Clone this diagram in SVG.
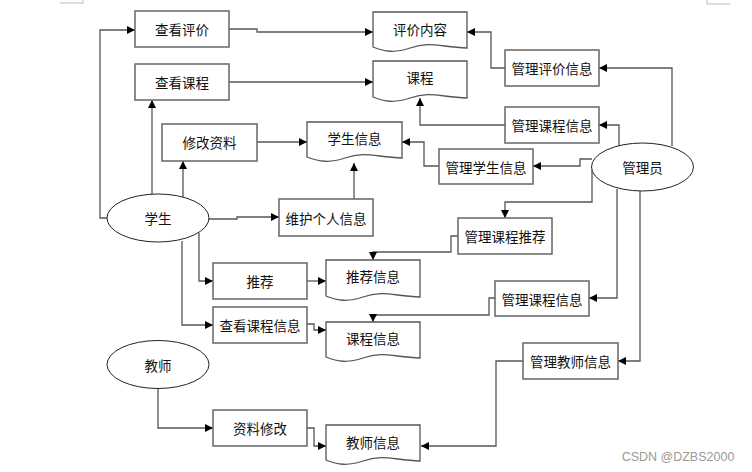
<svg xmlns="http://www.w3.org/2000/svg" width="752" height="472" viewBox="0 0 752 472">
<defs>
<marker id="ah" viewBox="0 0 10 10" refX="10" refY="5" markerWidth="9" markerHeight="8" markerUnits="userSpaceOnUse" orient="auto">
<path d="M0,0 L10,5 L0,10 Z" fill="#000"/>
</marker>
</defs>
<style>
.box{fill:#fff;stroke:#666;stroke-width:1.5}
.doc{fill:#fff;stroke:#555;stroke-width:1.3}
.ell{fill:#fff;stroke:#222;stroke-width:1}
.t{font-family:"Noto Sans CJK SC","Noto Sans",sans-serif;font-size:13.5px;fill:#111;text-anchor:middle;dominant-baseline:central}
.c{fill:none;stroke:#555;stroke-width:1.3;marker-end:url(#ah)}
.mark{fill:none;stroke:#bbb;stroke-width:1}
</style>
<rect width="752" height="472" fill="#fff"/>
<path class="mark" d="M60,3 H83 V0"/>
<path class="mark" d="M730,4 H707 V0"/>

<g id="connectors">
<path class="c" d="M107,218 H100 V30 H135"/>
<path class="c" d="M152,194 V100"/>
<path class="c" d="M183,197 V161"/>
<path class="c" d="M257,142 H307"/>
<path class="c" d="M209,219 H237 V217 H279"/>
<path class="c" d="M354,199 V163"/>
<path class="c" d="M229,29 H257 V32 H373"/>
<path class="c" d="M229,82 H373"/>
<path class="c" d="M672,146 V68 H599"/>
<path class="c" d="M505,68 H491 V32 H467"/>
<path class="c" d="M619,148 V125 H599"/>
<path class="c" d="M505,125 H420 V98"/>
<path class="c" d="M592,159 H580 V166 H533"/>
<path class="c" d="M439,166 H424 V142 H402"/>
<path class="c" d="M592,170 V202 H505 V218"/>
<path class="c" d="M458,236 H451 V252 H373 V260"/>
<path class="c" d="M199,233 V281 H213"/>
<path class="c" d="M307,281 H326"/>
<path class="c" d="M182,241 V325 H213"/>
<path class="c" d="M307,324 H314 V330 H326"/>
<path class="c" d="M617,189 V298 H589"/>
<path class="c" d="M495,298 H489 V315 H373 V322"/>
<path class="c" d="M640,191 V361 H618"/>
<path class="c" d="M523,361 H496 V446 H421"/>
<path class="c" d="M158,388 V428 H213"/>
<path class="c" d="M307,428 H314 V446 H326"/>
</g>

<g id="n-ckpj"><rect class="box" x="135" y="11" width="94" height="36"/><text class="t" x="182" y="29">查看评价</text></g>
<g id="n-ckkc"><rect class="box" x="135" y="64" width="94" height="36"/><text class="t" x="182" y="82">查看课程</text></g>
<g id="n-xgzl"><rect class="box" x="162" y="124" width="95" height="37"/><text class="t" x="209.5" y="142">修改资料</text></g>
<g id="n-whgrxx"><rect class="box" x="279" y="199" width="94" height="37"/><text class="t" x="326" y="217.5">维护个人信息</text></g>
<g id="n-tj"><rect class="box" x="213" y="263" width="94" height="36"/><text class="t" x="260" y="281">推荐</text></g>
<g id="n-ckkcxx"><rect class="box" x="213" y="307" width="94" height="36"/><text class="t" x="260" y="325">查看课程信息</text></g>
<g id="n-zlxg"><rect class="box" x="213" y="410" width="94" height="36"/><text class="t" x="260" y="428">资料修改</text></g>
<g id="n-glpjxx"><rect class="box" x="505" y="50" width="94" height="36"/><text class="t" x="552" y="68">管理评价信息</text></g>
<g id="n-glkcxx1"><rect class="box" x="505" y="107" width="94" height="36"/><text class="t" x="552" y="125">管理课程信息</text></g>
<g id="n-glxsxx"><rect class="box" x="439" y="149" width="94" height="35"/><text class="t" x="486" y="166.5">管理学生信息</text></g>
<g id="n-glkctj"><rect class="box" x="458" y="218" width="94" height="36"/><text class="t" x="505" y="236">管理课程推荐</text></g>
<g id="n-glkcxx2"><rect class="box" x="495" y="281" width="94" height="35"/><text class="t" x="542" y="298.5">管理课程信息</text></g>
<g id="n-gljsxx"><rect class="box" x="523" y="343" width="95" height="36"/><text class="t" x="570.5" y="361">管理教师信息</text></g>

<g id="d-pjnr"><path class="doc" d="M373,12 H467 V48 C440,47 430,41 410,48 C395,53 385,52 373,47 Z"/><text class="t" x="420" y="29">评价内容</text></g>
<g id="d-kc"><path class="doc" d="M373,61 H467 V98 C440,97 430,91 410,98 C395,103 385,102 373,97 Z"/><text class="t" x="420" y="77">课程</text></g>
<g id="d-xsxx"><path class="doc" d="M307,122 H402 V158 C375,157 365,151 345,158 C330,163 320,162 307,157 Z"/><text class="t" x="354.5" y="138">学生信息</text></g>
<g id="d-tjxx"><path class="doc" d="M326,260 H420 V297 C393,296 383,290 363,297 C348,302 338,301 326,296 Z"/><text class="t" x="373" y="276">推荐信息</text></g>
<g id="d-kcxx"><path class="doc" d="M326,322 H420 V358 C393,357 383,351 363,358 C348,363 338,362 326,357 Z"/><text class="t" x="373" y="338">课程信息</text></g>
<g id="d-jsxx"><path class="doc" d="M326,425 H420 V461 C393,460 383,454 363,461 C348,466 338,465 326,460 Z"/><text class="t" x="373" y="442">教师信息</text></g>

<g id="e-xs"><ellipse class="ell" cx="158" cy="218" rx="51" ry="24"/><text class="t" x="158" y="218">学生</text></g>
<g id="e-gly"><ellipse class="ell" cx="642.5" cy="167" rx="51" ry="24"/><text class="t" x="642.5" y="167">管理员</text></g>
<g id="e-js"><ellipse class="ell" cx="158" cy="364.5" rx="51" ry="24"/><text class="t" x="158" y="364.5">教师</text></g>

<text x="678" y="461" font-family="Liberation Sans, Arial, sans-serif" font-size="12.5" fill="#9a9a9a" text-anchor="middle">CSDN @DZBS2000</text>
</svg>
